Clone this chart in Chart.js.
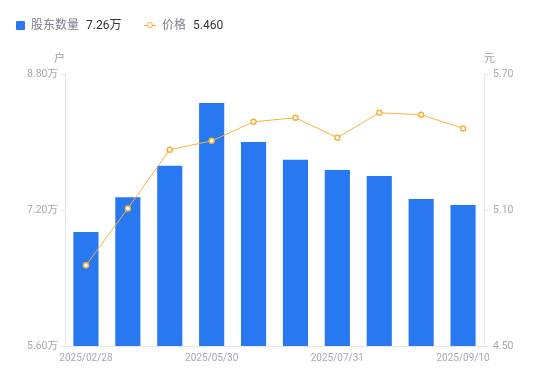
<!DOCTYPE html>
<html><head><meta charset="utf-8">
<script src="https://cdn.jsdelivr.net/npm/chart.js@4"></script>
<style>
html,body{margin:0;padding:0;background:#fff;}
#wrap{position:relative;width:550px;height:381px;font-family:Roboto,"Noto Sans CJK SC",sans-serif;}
canvas{position:absolute;left:0;top:0;}
.lg{position:absolute;top:17px;font-size:12px;line-height:16px;white-space:nowrap;}
.lab{color:#7a7f8c;}
.val{color:#333;margin-left:7px;}
.unit{position:absolute;top:49px;font-size:11px;color:#9aa0ab;}
</style></head><body>
<div id="wrap">
<canvas id="c" width="550" height="381"></canvas>
<div class="lg" style="left:16px;"><span style="display:inline-block;width:9px;height:9px;background:#2878F2;border-radius:1px;vertical-align:-1px;margin-right:6px;"></span><span class="lab">股东数量</span><span class="val" id="v1"></span></div>
<div class="lg" style="left:144px;"><span style="display:inline-block;position:relative;width:12px;height:9px;margin-right:6px;vertical-align:-1px;"><span style="position:absolute;left:0;top:4px;width:12px;height:1px;background:#F7B23B;"></span><span style="position:absolute;left:3px;top:1px;width:4px;height:4px;border:1.5px solid #F7B23B;border-radius:50%;background:#fff;"></span></span><span class="lab">价格</span><span class="val" id="v2"></span></div>
<div class="unit" style="left:54px;">户</div>
<div class="unit" style="left:484px;">元</div>
</div>
<script>
const categories = ["2025/02/28","2025/03/20","2025/04/30","2025/05/30","2025/06/20","2025/06/30","2025/07/31","2025/08/20","2025/08/31","2025/09/10"];
const holders = [6.94, 7.35, 7.72, 8.46, 8.00, 7.79, 7.67, 7.60, 7.33, 7.26];
const price = [4.856, 5.107, 5.366, 5.405, 5.489, 5.507, 5.419, 5.529, 5.520, 5.460];
const leftTicks = [5.6, 7.2, 8.8];
const rightTicks = [4.5, 5.1, 5.7];
const xTickIdx = [0, 3, 6, 9];

document.getElementById('v1').textContent = holders[holders.length-1].toFixed(2) + '万';
document.getElementById('v2').textContent = price[price.length-1].toFixed(3);

const tickColor = '#a3a8b4';
const lineColor = '#e3e5e9';
const font = {family: 'Roboto, "Noto Sans CJK SC", sans-serif', size: 10.5};
const xfont = {family: 'Roboto, "Noto Sans CJK SC", sans-serif', size: 10};

new Chart(document.getElementById('c'), {
  data: {
    labels: categories,
    datasets: [
      {type:'line', data: price, yAxisID:'y1', order:0, borderColor:'#F7B23B', borderWidth:1,
       pointRadius:2.5, pointBorderWidth:1.5, pointBackgroundColor:'#fff', pointBorderColor:'#F7B23B', tension:0},
      {type:'bar', data: holders, yAxisID:'y', order:1, backgroundColor:'#2878F2',
       barPercentage:0.6, categoryPercentage:1.0}
    ]
  },
  options: {
    responsive:false, animation:false,
    layout:{padding:{top:74, left:0, right:0, bottom:0}},
    plugins:{legend:{display:false}, tooltip:{enabled:false}},
    scales:{
      x:{
        grid:{display:false}, border:{display:true,color:lineColor},
        ticks:{autoSkip:false, maxRotation:0, color:tickColor, font:xfont, padding:-2,
          callback:function(v,i){return xTickIdx.includes(i)?categories[i]:'';}},
        afterFit:function(s){s.height=35;}
      },
      y:{
        position:'left', min:5.6, max:8.8,
        grid:{drawOnChartArea:false, drawTicks:true, tickLength:4, color:lineColor},
        border:{display:true,color:lineColor},
        afterBuildTicks:function(s){s.ticks=leftTicks.map(v=>({value:v}));},
        ticks:{color:tickColor, font:font, padding:3, callback:v=>v.toFixed(2)+'万'},
        afterFit:function(s){s.width=65;}
      },
      y1:{
        position:'right', min:4.5, max:5.7,
        grid:{drawOnChartArea:false, drawTicks:true, tickLength:4, color:lineColor},
        border:{display:true,color:lineColor},
        afterBuildTicks:function(s){s.ticks=rightTicks.map(v=>({value:v}));},
        ticks:{color:tickColor, font:font, padding:5, callback:v=>v.toFixed(2)},
        afterFit:function(s){s.width=66;}
      }
    }
  }
});
</script>
</body></html>
